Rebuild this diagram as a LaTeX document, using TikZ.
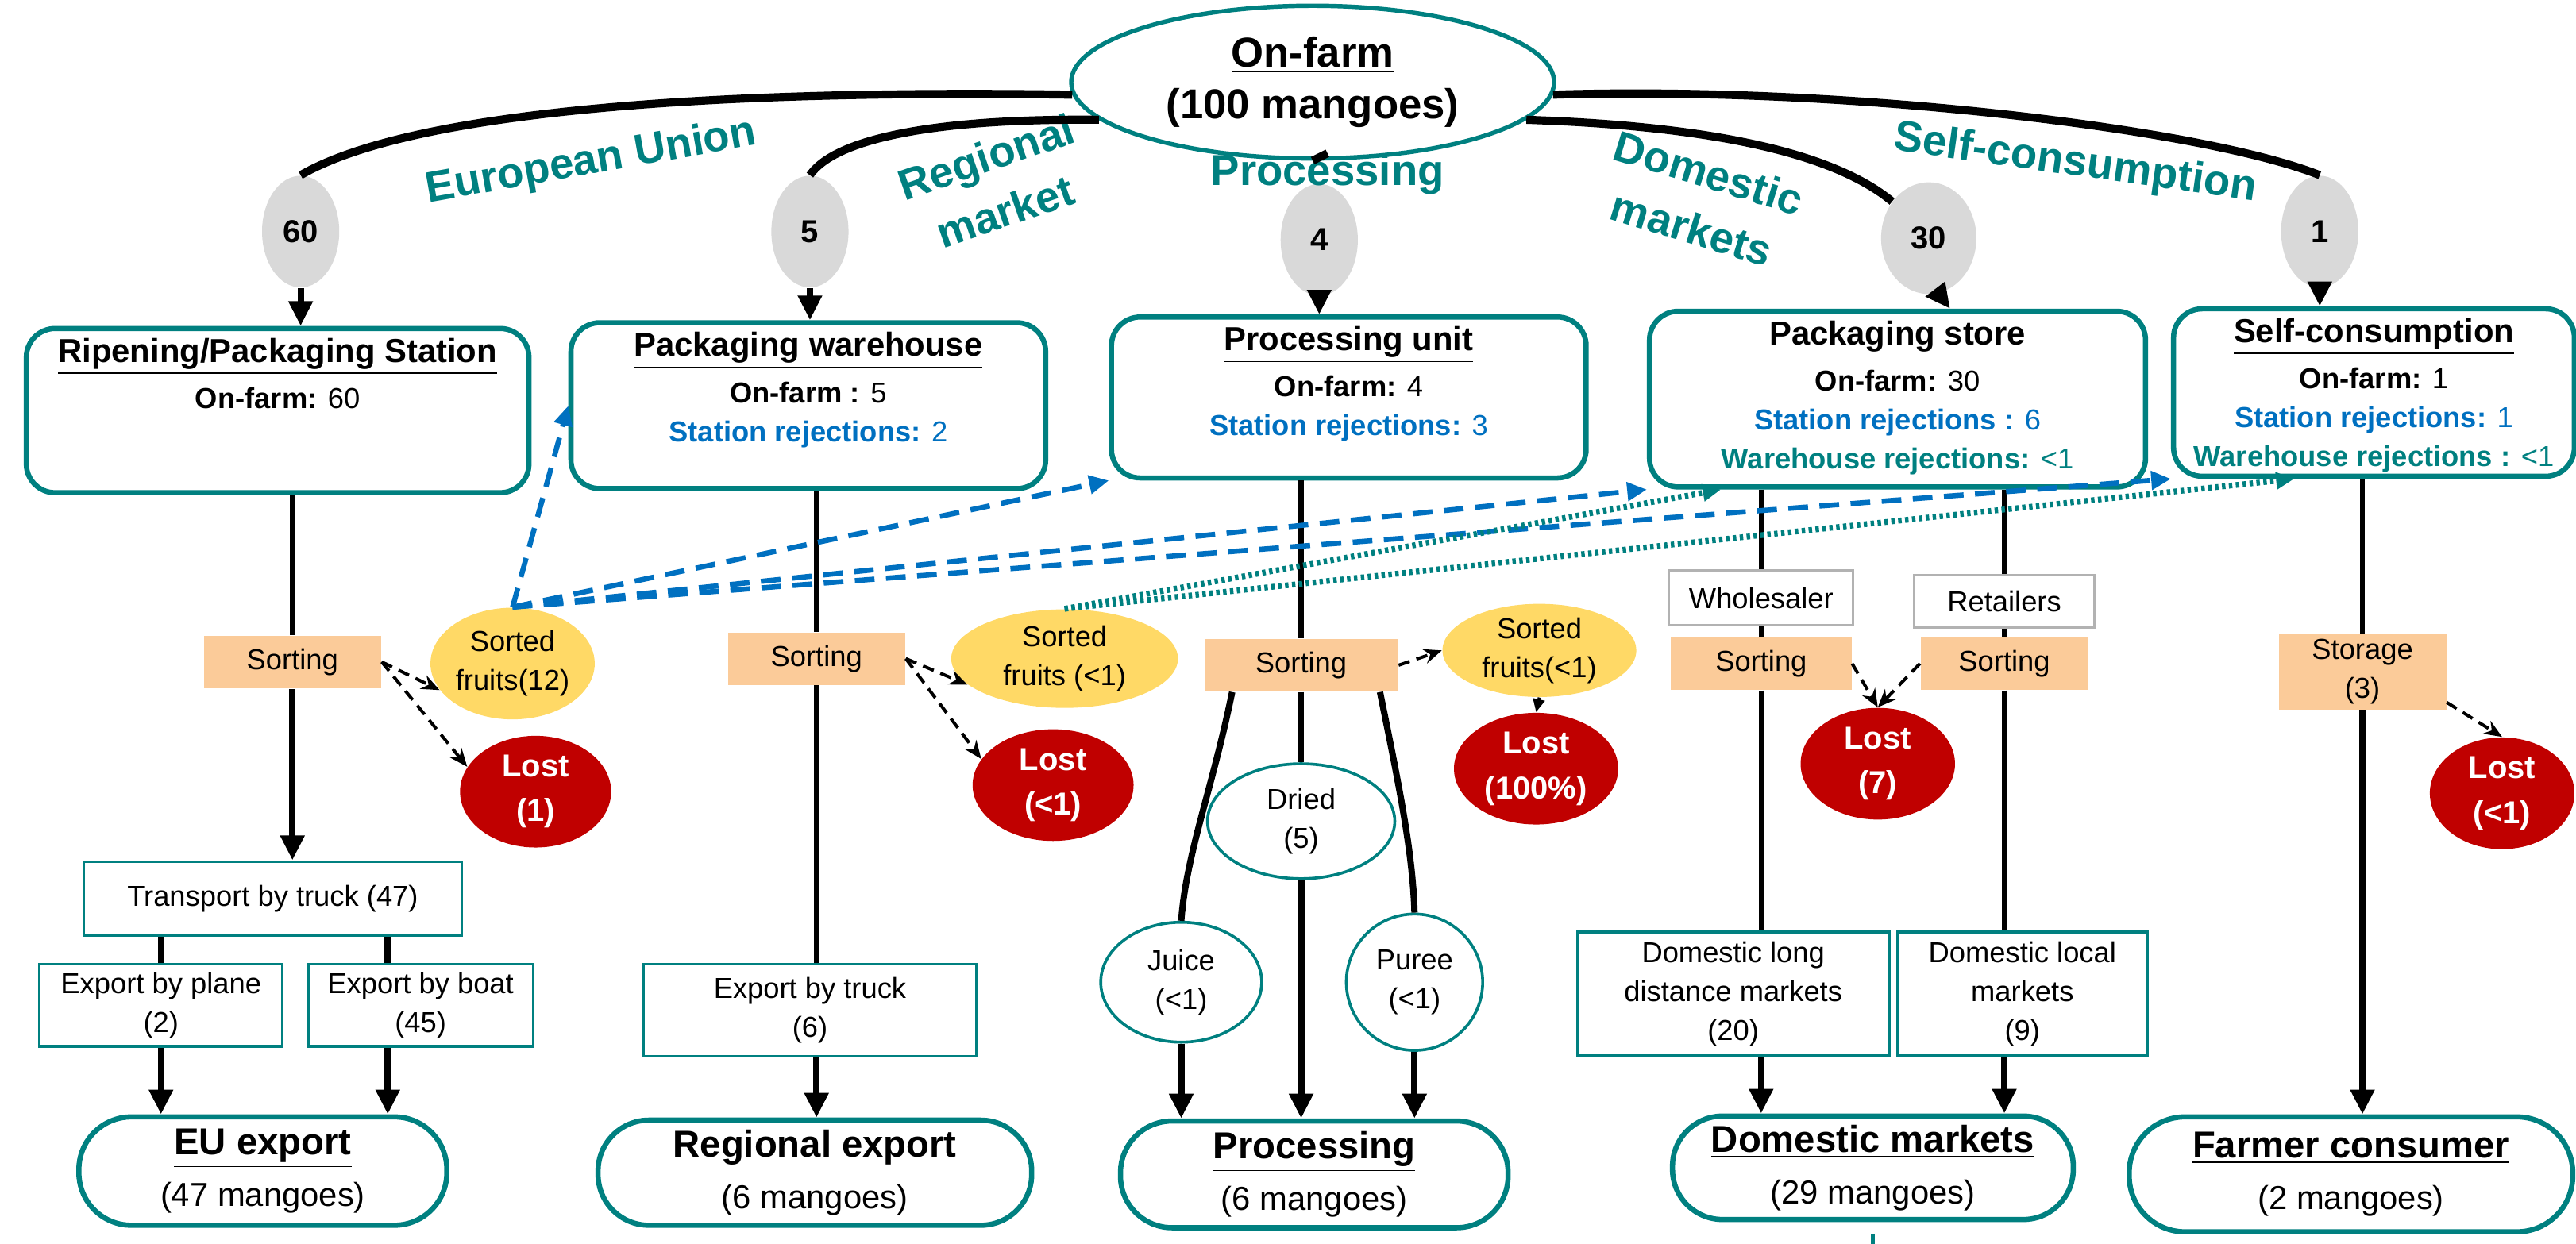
\documentclass[tikz,border=0pt]{standalone}
\usepackage{fontspec}
\setmainfont{Liberation Sans}
\usetikzlibrary{arrows.meta,positioning,shapes.geometric}

\definecolor{tealc}{RGB}{0,128,128}
\definecolor{bluec}{RGB}{0,112,192}
\definecolor{peach}{RGB}{251,203,153}
\definecolor{yellowc}{RGB}{255,217,102}
\definecolor{redc}{RGB}{192,0,0}
\definecolor{greyc}{RGB}{217,217,217}

\newcommand{\boxtitle}[1]{{\fontsize{11.5}{13.5}\selectfont\bfseries\underline{#1}}}
\newcommand{\outtitle}[1]{{\fontsize{13}{16}\selectfont\bfseries\underline{#1}}}

\tikzset{
  farmdot/.style={ellipse, draw=tealc, line width=1.5pt, fill=white, inner sep=0pt, align=center,
    font=\fontsize{14.5}{18}\selectfont\bfseries},
  numdot/.style={ellipse, fill=greyc, inner sep=0pt, minimum width=0.94cm, minimum height=1.36cm,
    font=\fontsize{11}{13}\selectfont\bfseries},
  routelbl/.style={text=tealc, align=center, inner sep=0pt, font=\fontsize{15}{20}\selectfont\bfseries},
  stagebox/.style={draw=tealc, line width=1.8pt, rounded corners=0.35cm},
  stagetxt/.style={align=center, inner sep=1pt},
  sortbox/.style={fill=peach, align=center, inner sep=0pt},
  rolebox/.style={draw=black!30, line width=0.8pt, align=center, inner sep=0pt},
  keptdot/.style={ellipse, fill=yellowc, align=center, inner sep=0pt},
  lostdot/.style={ellipse, fill=redc, text=white, align=center, inner sep=0pt, font=\fontsize{11}{15.5}\selectfont\bfseries},
  prodot/.style={ellipse, draw=tealc, line width=1pt, align=center, inner sep=0pt},
  stepbox/.style={draw=tealc, line width=0.9pt, align=center, inner sep=0pt},
  endbox/.style={draw=tealc, line width=1.8pt, align=center, inner sep=0pt, font=\fontsize{11.5}{18}\selectfont},
  route/.style={line width=2.8pt},
  colline/.style={line width=1.8pt},
  flow/.style={line width=2.2pt, -{Triangle[length=0.3cm,width=0.28cm]}},
  lossflow/.style={line width=1.1pt, dash pattern=on 4pt off 2.5pt, -{Stealth[length=0.22cm,width=0.18cm]}},
  rejflow/.style={bluec, line width=1.8pt, dash pattern=on 0.24cm off 0.14cm, -{Triangle[length=0.24cm,width=0.22cm]}},
  whflow/.style={tealc, line width=2pt, dash pattern=on 1.2pt off 1.2pt, -{Triangle[length=0.22cm,width=0.2cm]}},
}

\begin{document}
\begin{tikzpicture}[x=0.02cm, y=-0.02cm, font=\fontsize{10}{13.5}\selectfont]
    \useasboundingbox (0,0) rectangle (1568,757);
    %% Farm and routes
    \node[farmdot, minimum width=5.88cm, minimum height=1.86cm] (farm) at (799,50) {\underline{On-farm}\\(100 mangoes)};
    \node[numdot] (c60) at (183,141) {60};
    \node[numdot] (c5) at (493,141) {5};
    \node[numdot] (c4) at (803,146) {4};
    \node[numdot, minimum width=1.16cm] (c30) at (1174,145) {30};
    \node[numdot] (c1) at (1412,141) {1};
    \node[routelbl, rotate=10] (eulbl) at (360,99) {European Union};
    \node[routelbl, rotate=19] (reglbl) at (606,112) {Regional\\market};
    \node[routelbl] (proclbl) at (808,106) {Processing};
    \node[routelbl, rotate=-17] (domlbl) at (1035,122) {Domestic\\markets};
    \node[routelbl, rotate=-8] (selflbl) at (1263,100) {Self-consumption};
    \draw[route] (farm.183) .. controls (480,55) and (260,62) .. (c60.north);
    \draw[route] (farm.190) .. controls (580,72) and (510,82) .. (c5.north);
    \draw[route] (farm.south) -- (proclbl.north);
    \draw[route] (farm.-10) .. controls (1020,76) and (1110,88) .. (c30.135);
    \draw[route] (farm.-3) .. controls (1120,52) and (1340,78) .. (c1.north);

    %% Stages
    \node[stagebox, minimum width=6.12cm, minimum height=2cm] (ripen) at (169,250) {};
    \node[stagebox, minimum width=5.78cm, minimum height=2.02cm] (whouse) at (492,247) {};
    \node[stagebox, minimum width=5.78cm, minimum height=1.96cm] (punit) at (821,242) {};
    \node[stagebox, minimum width=6.04cm, minimum height=2.14cm] (pstore) at (1155,243) {};
    \node[stagebox, minimum width=4.88cm, minimum height=2.04cm] (selfc) at (1445,239) {};
    \node[stagetxt, below=3pt of ripen.north] (ripen-t) {\boxtitle{Ripening/Packaging Station}\\[2.5pt]\textbf{On-farm:} 60};
    \node[stagetxt, below=3pt of whouse.north] (whouse-t) {\boxtitle{Packaging warehouse}\\[2.5pt]\textbf{On-farm :} 5\\
      \textcolor{bluec}{\textbf{Station rejections:} 2}};
    \node[stagetxt, below=3pt of punit.north] (punit-t) {\boxtitle{Processing unit}\\[2.5pt]\textbf{On-farm:} 4\\
      \textcolor{bluec}{\textbf{Station rejections:} 3}};
    \node[stagetxt, below=3pt of pstore.north] (pstore-t) {\boxtitle{Packaging store}\\[2.5pt]\textbf{On-farm:} 30\\
      \textcolor{bluec}{\textbf{Station rejections :} 6}\\ \textcolor{tealc}{\textbf{Warehouse rejections:} <1}};
    \node[stagetxt, below=3pt of selfc.north] (selfc-t) {\boxtitle{Self-consumption}\\[2.5pt]\textbf{On-farm:} 1\\
      \textcolor{bluec}{\textbf{Station rejections:} 1}\\ \textcolor{tealc}{\textbf{Warehouse rejections :} <1}};
    \draw[flow] (c60.south) -- (c60.south |- ripen.north);
    \draw[flow] (c5.south) -- (c5.south |- whouse.north);
    \draw[flow] (c4.south) -- (c4.south |- punit.north);
    \draw[flow] (c30.-80) -- ([xshift=0.64cm]pstore.north);
    \draw[flow] (c1.south) -- (c1.south |- selfc.north);

    %% Sorting and losses
    \node[sortbox, minimum width=2.16cm, minimum height=0.64cm] (s1) at (178,403) {Sorting};
    \node[sortbox, minimum width=2.16cm, minimum height=0.64cm] (s2) at (497,401) {Sorting};
    \node[sortbox, minimum width=2.36cm, minimum height=0.64cm] (s3) at (792,405) {Sorting};
    \node[rolebox, minimum width=2.24cm, minimum height=0.66cm] (whole) at (1072,364) {Wholesaler};
    \node[rolebox, minimum width=2.2cm, minimum height=0.64cm] (retail) at (1220,366) {Retailers};
    \node[sortbox, minimum width=2.2cm, minimum height=0.64cm] (s4) at (1072,404) {Sorting};
    \node[sortbox, minimum width=2.04cm, minimum height=0.64cm] (s5) at (1220,404) {Sorting};
    \node[sortbox, minimum width=2.04cm, minimum height=0.92cm] (store) at (1438,409) {Storage\\(3)};
    \node[keptdot, minimum width=2cm, minimum height=1.36cm] (y1) at (312,404) {Sorted\\fruits(12)};
    \node[keptdot, minimum width=2.76cm, minimum height=1.2cm] (y2) at (648,401) {Sorted\\fruits (<1)};
    \node[keptdot, minimum width=2.36cm, minimum height=1.12cm] (y3) at (937,396) {Sorted\\fruits(<1)};
    \node[lostdot, minimum width=1.84cm, minimum height=1.36cm] (l1) at (326,482) {Lost\\(1)};
    \node[lostdot, minimum width=1.96cm, minimum height=1.36cm] (l2) at (641,478) {Lost\\(<1)};
    \node[lostdot, minimum width=2cm, minimum height=1.36cm] (l3) at (935,468) {Lost\\(100\%)};
    \node[lostdot, minimum width=1.88cm, minimum height=1.36cm] (l4) at (1143,465) {Lost\\(7)};
    \node[lostdot, minimum width=1.76cm, minimum height=1.36cm] (l5) at (1523,483) {Lost\\(<1)};

    %% Ways out
    \node[stepbox, minimum width=4.6cm, minimum height=0.9cm] (trans) at (166,547) {Transport by truck (47)};
    \node[stepbox, minimum width=2.96cm, minimum height=1cm] (plane) at (98,612) {Export by plane\\(2)};
    \node[stepbox, minimum width=2.74cm, minimum height=1cm] (boat) at (256,612) {Export by boat\\(45)};
    \coordinate (boatx) at (236,600);
    \node[stepbox, minimum width=4.06cm, minimum height=1.12cm] (etruck) at (493,615) {Export by truck\\(6)};
    \node[prodot, minimum width=2.28cm, minimum height=1.4cm] (dried) at (792,500) {Dried\\(5)};
    \node[prodot, minimum width=1.96cm, minimum height=1.46cm] (juice) at (719,598) {Juice\\(<1)};
    \node[prodot, minimum width=1.66cm, minimum height=1.66cm] (puree) at (861,598) {Puree\\(<1)};
    \node[stepbox, minimum width=3.8cm, minimum height=1.5cm] (dlong) at (1055,605) {Domestic long\\distance markets\\(20)};
    \node[stepbox, minimum width=3.04cm, minimum height=1.5cm] (dlocal) at (1231,605) {Domestic local\\markets\\(9)};

    %% Destinations
    \node[endbox, rounded corners=0.64cm, minimum width=4.48cm, minimum height=1.32cm] (eu) at (160,713) {\outtitle{EU export}\\(47 mangoes)};
    \node[endbox, rounded corners=0.62cm, minimum width=5.28cm, minimum height=1.28cm] (reg) at (496,714) {\outtitle{Regional export}\\(6 mangoes)};
    \node[endbox, rounded corners=0.63cm, minimum width=4.72cm, minimum height=1.3cm] (proc) at (800,715) {\outtitle{Processing}\\(6 mangoes)};
    \node[endbox, rounded corners=0.61cm, minimum width=4.88cm, minimum height=1.26cm] (dom) at (1140,711) {\outtitle{Domestic markets}\\(29 mangoes)};
    \node[endbox, rounded corners=0.68cm, minimum width=5.4cm, minimum height=1.4cm] (farmer) at (1431,715) {\outtitle{Farmer consumer}\\(2 mangoes)};
    \draw[tealc, line width=1.5pt] ([yshift=-0.14cm]dom.south) -- ++(0,20);

    %% Flows down the columns
    \draw[colline] (s1.north |- ripen.south) -- (s1.north);
    \draw[flow] (s1.south) -- (s1.south |- trans.north);
    \draw[line width=2.2pt] (plane.north |- trans.south) -- (plane.north);
    \draw[line width=2.2pt] (boatx |- trans.south) -- (boatx |- boat.north);
    \draw[flow] (plane.south) -- (plane.south |- eu.north);
    \draw[flow] (boatx |- boat.south) -- (boatx |- eu.north);
    \draw[colline] (s2.north |- whouse.south) -- (s2.north);
    \draw[colline] (s2.south) -- (s2.south |- etruck.north);
    \draw[flow] (s2 |- etruck.south) -- (s2 |- reg.north);
    \draw[colline] (s3.north |- punit.south) -- (s3.north);
    \draw[colline] (s3.south) -- (dried.north);
    \draw[line width=2.2pt] ([xshift=-0.84cm]s3.south) .. controls (738,480) and (722,520) .. (juice.north);
    \draw[line width=2.2pt] ([xshift=0.96cm]s3.south) .. controls (852,480) and (860,520) .. (puree.north);
    \draw[flow] (dried.south) -- (dried.south |- proc.north);
    \draw[flow] (juice.south) -- (juice.south |- proc.north);
    \draw[flow] (puree.south) -- (puree.south |- proc.north);
    \draw[colline] (whole.north |- pstore.south) -- (whole.north);
    \draw[colline] (whole.south) -- (s4.north);
    \draw[colline] (s4.south) -- (s4.south |- dlong.north);
    \draw[flow] (s4 |- dlong.south) -- (s4 |- dom.north);
    \draw[colline] (retail.north |- pstore.south) -- (retail.north);
    \draw[colline] (retail.south) -- (s5.north);
    \draw[colline] (s5.south) -- (s5.south |- dlocal.north);
    \draw[flow] (s5 |- dlocal.south) -- (s5 |- dom.north);
    \draw[colline] (store.north |- selfc.south) -- (store.north);
    \draw[flow] (store.south) -- (store.south |- farmer.north);

    %% Losses
    \draw[lossflow] (s1.east) -- (y1.200);
    \draw[lossflow] (s1.east) -- (l1.160);
    \draw[lossflow] (s2.east) -- (y2.195);
    \draw[lossflow] (s2.east) -- (l2.160);
    \draw[lossflow] (s3.east) -- (y3.west);
    \draw[lossflow, -{Triangle[length=0.16cm,width=0.14cm]}] (y3.south) -- (l3.north);
    \draw[lossflow] (s4.east) -- (l4.north);
    \draw[lossflow] (s5.west) -- (l4.north);
    \draw[lossflow] (store.-20) -- (l5.north);

    %% Rejections sent on
    \draw[rejflow] (y1.north) -- (whouse.west);
    \draw[rejflow] (y1.north) -- (punit.south west);
    \draw[rejflow] (y1.north) -- (pstore.south west);
    \draw[rejflow] (y1.north) -- (selfc.south west);
    \draw[whflow] (y2.north) -- ([xshift=0.9cm]pstore.south west);
    \draw[whflow] (y2.north) -- ([xshift=1.5cm]selfc.south west);
\end{tikzpicture}
\end{document}
